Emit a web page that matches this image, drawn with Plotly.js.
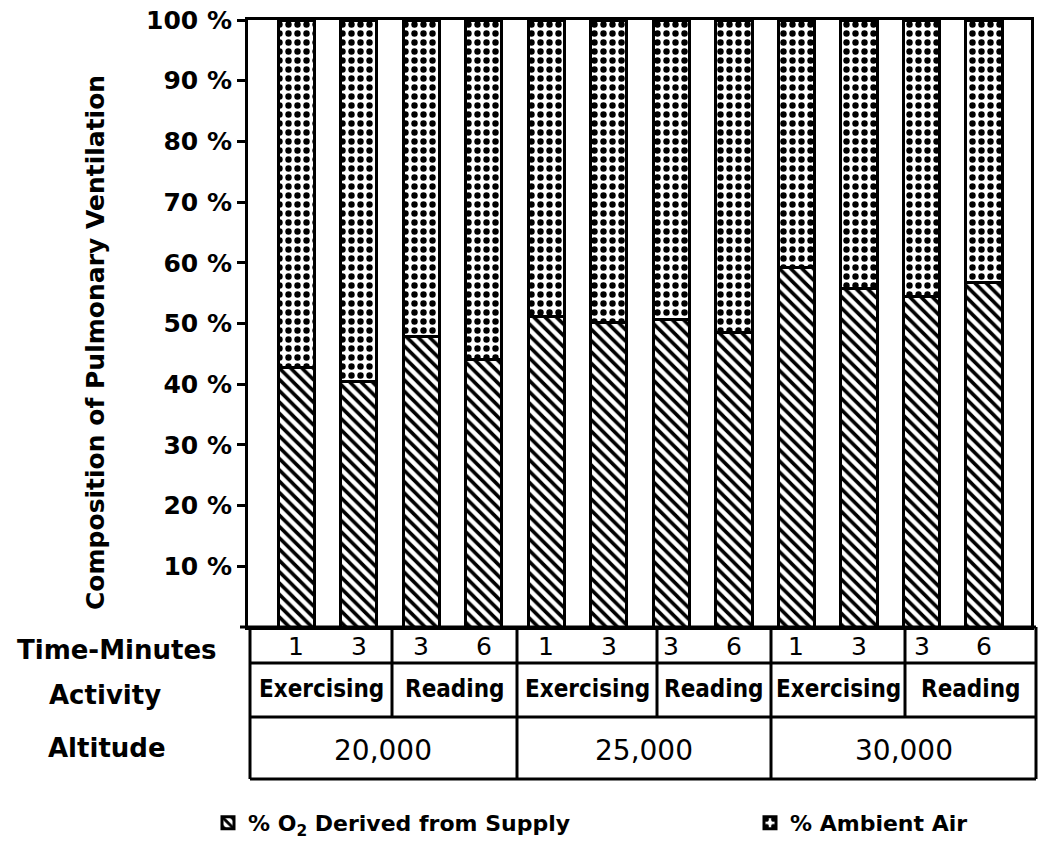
<!DOCTYPE html>
<html>
<head>
<meta charset="utf-8">
<script src="https://cdn.plot.ly/plotly-3.0.1.min.js"></script>
<style>html,body{margin:0;padding:0;background:#fff;}#chart{width:1043px;height:845px;}</style>
</head>
<body>
<div id="chart"></div>
<script>
// ---- data ----
const categories = [
  '20,000 Exercising 1', '20,000 Exercising 3', '20,000 Reading 3', '20,000 Reading 6',
  '25,000 Exercising 1', '25,000 Exercising 3', '25,000 Reading 3', '25,000 Reading 6',
  '30,000 Exercising 1', '30,000 Exercising 3', '30,000 Reading 3', '30,000 Reading 6'
];
const supplyPct  = [42.8, 40.5, 47.9, 44.0, 51.1, 50.1, 50.7, 48.6, 59.3, 55.7, 54.4, 56.7];
const ambientPct = [57.2, 59.5, 52.1, 56.0, 48.9, 49.9, 49.3, 51.4, 40.7, 44.3, 45.6, 43.3];
const timeLabels = ['1', '3', '3', '6', '1', '3', '3', '6', '1', '3', '3', '6'];
const activityLabels = ['Exercising', 'Reading', 'Exercising', 'Reading', 'Exercising', 'Reading'];
const altitudeLabels = ['20,000', '25,000', '30,000'];
const rowLabels = ['Time-Minutes', 'Activity', 'Altitude'];
const yTickVals = [10, 20, 30, 40, 50, 60, 70, 80, 90, 100];
const yTickText = ['10 %', '20 %', '30 %', '40 %', '50 %', '60 %', '70 %', '80 %', '90 %', '100 %'];

// ---- geometry helpers (pixel -> paper) ----
const W = 1043, H = 845;
const M = {l: 248, r: 12, t: 20, b: 218, autoexpand: false};
const PW = W - M.l - M.r, PH = H - M.t - M.b;
const px = v => (v - M.l) / PW;
const py = v => (H - M.b - v) / PH;

const FONT = "'DejaVu Sans', 'Liberation Sans', sans-serif";
const NARROW = "'DejaVu Sans Condensed', 'Liberation Sans Narrow', 'DejaVu Sans', sans-serif";

const traces = [
  {
    type: 'bar', x: categories, y: supplyPct, width: 0.58,
    name: '% O<sub>2</sub> Derived from Supply', legend: 'legend',
    marker: {color: '#ffffff', line: {color: '#000', width: 3},
      pattern: {shape: '\\', fgcolor: '#000', bgcolor: '#fff', size: 8, solidity: 0.45}},
    hoverinfo: 'y'
  },
  {
    type: 'bar', x: categories, y: ambientPct, width: 0.58,
    name: '% Ambient Air', legend: 'legend2',
    marker: {color: '#ffffff', line: {color: '#000', width: 3},
      pattern: {shape: '.', fgcolor: '#000', bgcolor: '#fff', size: 9, solidity: 0.4}},
    hoverinfo: 'y'
  }
];

// ---- table under the plot ----
const rowTop = 627, rowTime = 663, rowAct = 717, rowBot = 779;
const tblL = 250, tblR = 1036;
const pairDividers = [392, 517, 657, 771, 905];
const altDividers = [517, 771];
const activityCenters = [321, 455, 587, 714, 838, 971];
const altitudeCenters = [383, 644, 904];

const shapes = [];
const ln = (x0, y0, x1, y1) => shapes.push({type: 'line', xref: 'paper', yref: 'paper',
  x0: px(x0), y0: py(y0), x1: px(x1), y1: py(y1), line: {color: '#000', width: 3}});
ln(240, rowTop, tblR, rowTop);
ln(tblL, rowTime, tblR, rowTime);
ln(tblL, rowAct, tblR, rowAct);
ln(tblL, rowBot, tblR, rowBot);
ln(tblL, rowTop, tblL, rowBot);
ln(tblR, rowTop, tblR, rowBot);
pairDividers.forEach(d => ln(d, rowTop, d, rowAct));
altDividers.forEach(d => ln(d, rowAct, d, rowBot));

const annotations = [];
timeLabels.forEach((t, i) => annotations.push({
  x: categories[i], xref: 'x', y: py(646), yref: 'paper', text: t, showarrow: false,
  xanchor: 'center', yanchor: 'middle', font: {family: FONT, size: 25, color: '#000'}
}));
activityLabels.forEach((t, i) => annotations.push({
  x: px(activityCenters[i]), xref: 'paper', y: py(689), yref: 'paper', text: t, showarrow: false,
  xanchor: 'center', yanchor: 'middle', font: {family: NARROW, size: 24, weight: 'bold', color: '#000'}
}));
altitudeLabels.forEach((t, i) => annotations.push({
  x: px(altitudeCenters[i]), xref: 'paper', y: py(750), yref: 'paper', text: t, showarrow: false,
  xanchor: 'center', yanchor: 'middle', font: {family: FONT, size: 28, color: '#000'}
}));
const rowLabelPos = [[117, 650], [105, 695], [107, 748]];
rowLabels.forEach((t, i) => annotations.push({
  x: px(rowLabelPos[i][0]), xref: 'paper', y: py(rowLabelPos[i][1]), yref: 'paper', text: t,
  showarrow: false, xanchor: 'center', yanchor: 'middle',
  font: {family: FONT, size: 26, weight: 'bold', color: '#000'}
}));
annotations.push({
  x: px(95), xref: 'paper', y: py(343), yref: 'paper', text: 'Composition of Pulmonary Ventilation',
  textangle: -90, showarrow: false, xanchor: 'center', yanchor: 'middle',
  font: {family: FONT, size: 25, weight: 'bold', color: '#000'}
});

const legendBase = {
  orientation: 'h', traceorder: 'normal', xanchor: 'left', y: py(823), yanchor: 'middle',
  font: {family: FONT, size: 22, weight: 'bold', color: '#000'},
  itemwidth: 30, bgcolor: 'rgba(0,0,0,0)'
};

const layout = {
  width: W, height: H,
  margin: M,
  paper_bgcolor: '#fff', plot_bgcolor: '#fff',
  barmode: 'stack',
  showlegend: true,
  legend: Object.assign({}, legendBase, {x: px(208)}),
  legend2: Object.assign({}, legendBase, {x: px(750)}),
  xaxis: {
    type: 'category', range: [-0.77, 11.75], showticklabels: false, ticks: '',
    showline: true, linewidth: 3, linecolor: '#000', mirror: true, showgrid: false, zeroline: false,
    fixedrange: true
  },
  yaxis: {
    range: [0, 100], tickmode: 'array', tickvals: yTickVals, ticktext: yTickText,
    ticks: 'outside', ticklen: 8, tickwidth: 3, tickcolor: '#000',
    showline: true, linewidth: 3, linecolor: '#000', mirror: true,
    showgrid: false, zeroline: false,
    tickfont: {family: FONT, size: 25, weight: 'bold', color: '#000'},
    fixedrange: true
  },
  shapes: shapes,
  annotations: annotations
};

Plotly.newPlot('chart', traces, layout, {displayModeBar: false, staticPlot: true});
</script>
</body>
</html>
